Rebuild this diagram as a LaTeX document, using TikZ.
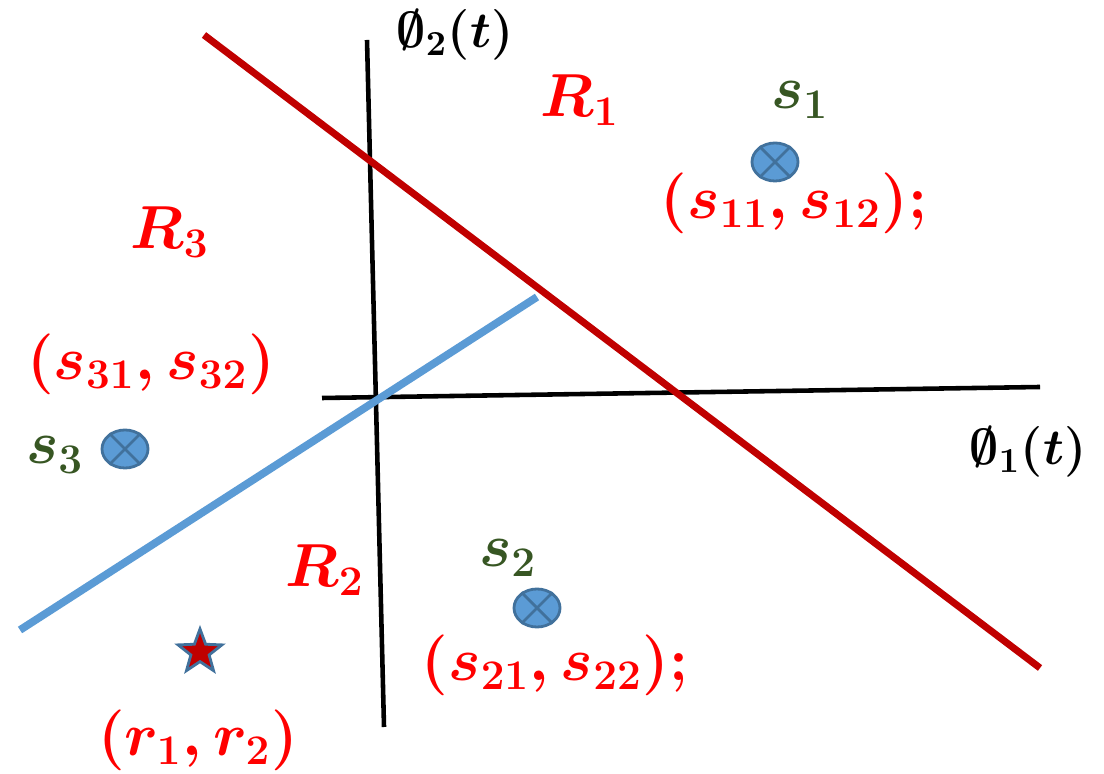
\documentclass[tikz,border=0pt]{standalone}
\usepackage{amsmath, amssymb}
\usetikzlibrary{shapes.geometric}

\definecolor{sepred}{HTML}{C00000}
\definecolor{sepblue}{HTML}{5B9BD5}
\definecolor{markedge}{HTML}{41719C}
\definecolor{labgreen}{HTML}{375623}

\begin{document}
\begin{tikzpicture}[x=0.01cm, y=-0.01cm,
    axis/.style={line width=1.3pt, black},
    region/.style={text=red, font=\boldmath\fontsize{18}{22}\selectfont},
    coords/.style={text=red, font=\boldmath\fontsize{18}{22}\selectfont},
    symname/.style={text=labgreen, font=\boldmath\fontsize{17.5}{21}\selectfont},
    axlabel/.style={font=\boldmath\fontsize{14}{17}\selectfont},
    signal/.style={ellipse, draw=markedge, line width=0.8pt, fill=sepblue,
      minimum width=0.46cm, minimum height=0.38cm, inner sep=0pt}]
  \useasboundingbox (0,0) rectangle (1104,774);

  % axes
  \coordinate (ytop) at (367,40);
  \coordinate (ybot) at (384,727);
  \coordinate (xleft) at (322,398);
  \coordinate (xright) at (1040,387);
  \draw[axis] (ytop) -- (ybot);
  \draw[axis] (xleft) -- (xright);
  \node[axlabel] (phitwo) at (455,35) {$\emptyset_2(t)$};
  \node[axlabel] (phione) at (1028,452) {$\emptyset_1(t)$};

  % decision boundaries
  \coordinate (redA) at (204,35);
  \coordinate (redB) at (1040,668);
  \coordinate (blueA) at (20,630);
  \coordinate (blueB) at (537,297);
  \draw[sepred, line width=2pt] (redA) -- (redB);
  \draw[sepblue, line width=2.2pt] (blueA) -- (blueB);

  % regions
  \node[region] (Rone) at (580,100) {$R_1$};
  \node[region] (Rthree) at (170,232) {$R_3$};
  \node[region] (Rtwo) at (325,570) {$R_2$};

  % signal points
  \foreach \n/\x/\y in {sone/775/162, stwo/537/608, sthree/125/449} {
    \node[signal] (\n) at (\x,\y) {};
    \draw[markedge, line width=0.8pt] (\n.45) -- (\n.225) (\n.135) -- (\n.315);
  }
  \node[symname] (sonelab) at (800,100) {$s_1$};
  \node[symname] (stwolab) at (508,558) {$s_2$};
  \node[symname] (sthreelab) at (55,455) {$s_3$};
  \node[coords] (sonexy) at (794,203) {$(s_{11},s_{12});$};
  \node[coords] (stwoxy) at (555,665) {$(s_{21},s_{22});$};
  \node[coords] (sthreexy) at (151,364) {$(s_{31},s_{32})$};

  % received point
  \node[star, star points=5, star point ratio=2.4, fill=sepred, draw=markedge,
    line width=0.8pt, minimum size=0.46cm, inner sep=0pt] (recv) at (200,652) {};
  \node[coords] (recvxy) at (198,740) {$(r_1,r_2)$};
\end{tikzpicture}
\end{document}
